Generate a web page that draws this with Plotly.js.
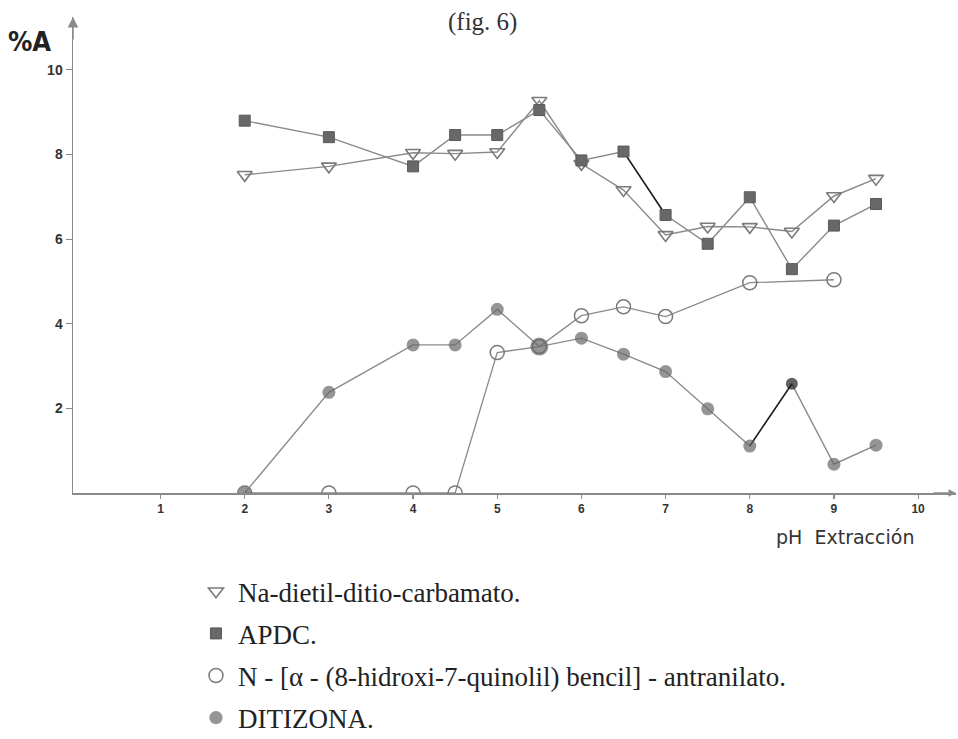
<!DOCTYPE html>
<html>
<head>
<meta charset="utf-8">
<script src="https://cdn.plot.ly/plotly-3.0.1.min.js"></script>
<style>
  html, body { margin: 0; padding: 0; background: #fff; }
  #chart { width: 958px; height: 739px; }
</style>
</head>
<body>
<div id="chart"></div>
<script>
// pH values at which each extractant was measured
const phFull = [2, 3, 4, 4.5, 5, 5.5, 6, 6.5, 7, 7.5, 8, 8.5, 9, 9.5];
const phQuinolil = [2, 3, 4, 4.5, 5, 5.5, 6, 6.5, 7, 8, 9];

// %A extracted
const naDietil = [7.52, 7.72, 8.04, 8.02, 8.06, 9.27, 7.78, 7.16, 6.10, 6.30, 6.29, 6.18, 7.02, 7.43];
const apdc     = [8.80, 8.41, 7.72, 8.46, 8.46, 9.05, 7.86, 8.07, 6.57, 5.89, 6.99, 5.29, 6.32, 6.83];
const quinolil = [0, 0, 0, 0, 3.32, 3.46, 4.19, 4.40, 4.17, 4.97, 5.04];
const ditizona = [0, 2.38, 3.50, 3.50, 4.34, 3.46, 3.66, 3.28, 2.87, 1.99, 1.11, 2.58, 0.68, 1.13];

const xTicks = [1, 2, 3, 4, 5, 6, 7, 8, 9, 10];
const yTicks = [2, 4, 6, 8, 10];

const names = [
  'Na-dietil-ditio-carbamato.',
  'APDC.',
  'N - [α - (8-hidroxi-7-quinolil) bencil] - antranilato.',
  'DITIZONA.'
];

const GREY = '#8a8a8a';
const MARK = '#686868';
const INK = '#1e1e1e';
const SERIF = 'Liberation Serif, Times New Roman, serif';

function lineTrace(x, y, color, width) {
  return { x: x, y: y, type: 'scatter', mode: 'lines', hoverinfo: 'skip',
           showlegend: false, line: { color: color, width: width } };
}
function markerTrace(x, y, name, marker, group) {
  return { x: x, y: y, type: 'scatter', mode: 'markers', name: name,
           legendgroup: group, marker: marker };
}

// size/colour per point for the dithizone series (large point at pH 5.5, dark point at pH 8.5)
const ditSizes = phFull.map(p => p === 5.5 ? 18 : (p === 8.5 ? 12 : 13));
const ditColors = phFull.map(p => p === 8.5 ? INK : MARK);

const iA = phFull.indexOf(6.5), iB = phFull.indexOf(7);
const iC = phFull.indexOf(8), iD = phFull.indexOf(8.5);

const data = [
  lineTrace(phFull, naDietil, GREY, 1.4),
  markerTrace(phFull, naDietil, names[0],
    { symbol: 'triangle-down-open', size: 13, color: '#7a7a7a', line: { width: 1.6, color: '#7a7a7a' } }, 'g1'),

  lineTrace(phFull, apdc, GREY, 1.4),
  lineTrace(phFull.slice(iA, iB + 1), apdc.slice(iA, iB + 1), INK, 1.5),
  markerTrace(phFull, apdc, names[1],
    { symbol: 'square', size: 11, color: MARK, line: { width: 1, color: '#5a5a5a' } }, 'g2'),

  lineTrace(phQuinolil, quinolil, GREY, 1.3),
  markerTrace(phQuinolil, quinolil, names[2],
    { symbol: 'circle-open', size: 14, color: '#7a7a7a', line: { width: 1.5, color: '#7a7a7a' } }, 'g3'),

  lineTrace(phFull, ditizona, GREY, 1.4),
  lineTrace(phFull.slice(iC, iD + 1), ditizona.slice(iC, iD + 1), INK, 1.5),
  markerTrace(phFull, ditizona, names[3],
    { symbol: 'circle', size: ditSizes, color: ditColors, line: { width: 0 } }, 'g4')
];

const layout = {
  width: 958, height: 739,
  margin: { l: 73, r: 2, t: 17, b: 246, autoexpand: false },
  paper_bgcolor: '#fff', plot_bgcolor: '#fff',
  showlegend: true,
  legend: {
    x: 0.137, y: -0.156, xanchor: 'left', yanchor: 'top',
    traceorder: 'grouped', tracegroupgap: 4, itemwidth: 34,
    font: { family: SERIF, size: 27, color: '#222' },
    bgcolor: 'rgba(0,0,0,0)', itemsizing: 'trace'
  },
  xaxis: {
    range: [-0.04, 10.45], showgrid: false, zeroline: false,
    showline: true, linecolor: GREY, linewidth: 1.5,
    tickvals: xTicks, ticks: 'outside', ticklen: 4, tickcolor: GREY, tickwidth: 1.2,
    tickfont: { family: 'Liberation Sans, Arial, sans-serif', size: 12, color: '#333', weight: 'bold' },
    fixedrange: true
  },
  yaxis: {
    range: [0, 11.25], showgrid: false, zeroline: false,
    showline: true, linecolor: GREY, linewidth: 1.5,
    tickvals: yTicks, ticks: 'outside', ticklen: 6, tickcolor: GREY, tickwidth: 1.2,
    tickfont: { family: 'Liberation Sans, Arial, sans-serif', size: 14, color: '#333', weight: 'bold' },
    fixedrange: true
  },
  annotations: [
    { xref: 'paper', yref: 'paper', x: 0.464, y: 0.9895, xanchor: 'center', yanchor: 'middle',
      text: '(fig. 6)', showarrow: false,
      font: { family: SERIF, size: 25, color: '#333' } },
    { xref: 'paper', yref: 'paper', x: -0.0487, y: 0.949, xanchor: 'center', yanchor: 'middle',
      text: '%A', showarrow: false,
      font: { family: 'DejaVu Sans Condensed, DejaVu Sans, sans-serif', size: 27, color: '#222', weight: 'bold' } },
    { xref: 'x', yref: 'paper', x: 9.13, y: 0, yshift: -44, xanchor: 'center', yanchor: 'middle',
      text: 'pH  Extracción', showarrow: false,
      font: { family: 'DejaVu Sans, sans-serif', size: 19, color: '#333' } },
    // axis arrowheads
    { xref: 'paper', yref: 'paper', x: 0, y: 1, ax: 0, ay: 24, text: '', showarrow: true,
      arrowhead: 2, arrowsize: 1.4, arrowwidth: 1.5, arrowcolor: GREY },
    { xref: 'paper', yref: 'paper', x: 1, y: 0, ax: -24, ay: 0, text: '', showarrow: true,
      arrowhead: 2, arrowsize: 1.0, arrowwidth: 1.5, arrowcolor: GREY }
  ]
};

Plotly.newPlot('chart', data, layout, { displayModeBar: false, staticPlot: true });
</script>
</body>
</html>
